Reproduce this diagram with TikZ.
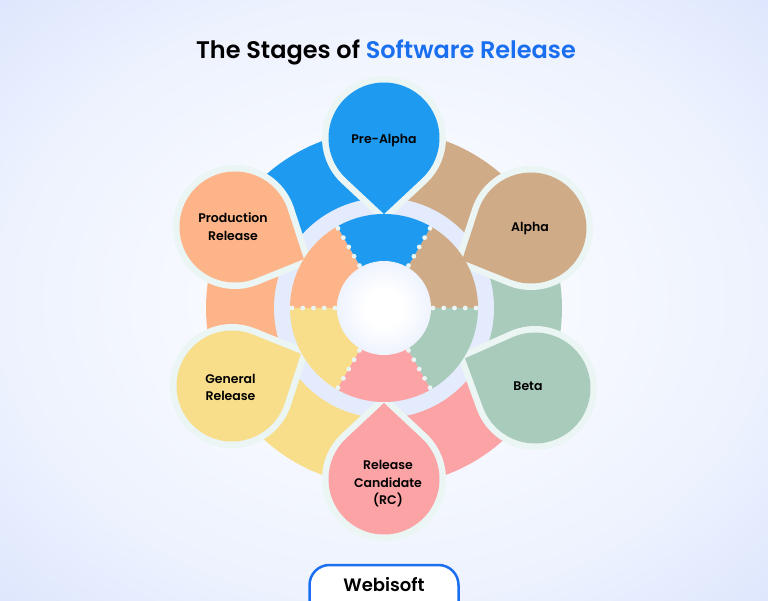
\documentclass[tikz,border=0pt]{standalone}
\usepackage{fontspec}
\setmainfont{Poppins}[BoldFont={* SemiBold}]
\definecolor{bgin}{HTML}{F8FAFF}
\definecolor{bgmid}{HTML}{EDF2FE}
\definecolor{bgout}{HTML}{DEE7FD}
\definecolor{holeout}{HTML}{EEF3FE}
\pgfdeclareradialshading{bgshade}{\pgfpoint{0bp}{0bp}}{color(0bp)=(bgin); color(10bp)=(bgin); color(25bp)=(bgmid); color(35bp)=(bgout); color(50bp)=(bgout)}
\pgfdeclareradialshading{holeshade}{\pgfpoint{0bp}{0bp}}{color(0bp)=(white); color(10bp)=(white); color(25bp)=(holeout); color(50bp)=(holeout)}
\definecolor{pale}{HTML}{E4EBFD}
\definecolor{halo}{HTML}{EAF5F4}
\definecolor{cblue}{HTML}{1E9BF0}
\definecolor{ctan}{HTML}{CFAB88}
\definecolor{cgreen}{HTML}{A9CBBB}
\definecolor{cpink}{HTML}{FBA3A5}
\definecolor{cyellow}{HTML}{F8DD8A}
\definecolor{corange}{HTML}{FDB488}
\definecolor{brand}{HTML}{1A6FF0}
\usetikzlibrary{calc}
\tikzset{
  label text/.style={font=\bfseries\fontsize{12.5}{17.5}\selectfont,align=center,text=black,inner sep=0pt},
  halo line/.style={draw=halo,line width=13pt,miter limit=10},
}
\newcommand{\bandsector}[4]{\fill[#4] (384,292) -- ($(384,292)+(#1:#3)$) arc[start angle=#1,end angle=#2,radius=#3] -- cycle;}
\newcommand{\dropshape}{(0,-76) -- (-46:55.5) arc[start angle=-46,end angle=226,radius=55.5] -- cycle}
\newcommand{\dropback}[3]{\begin{scope}[shift={(#1,#2)},rotate=#3]\path[halo line] \dropshape;\end{scope}}
\newcommand{\dropfill}[4]{\begin{scope}[shift={(#1,#2)},rotate=#3]\fill[#4] \dropshape;\end{scope}}
\newcommand{\dotline}[1]{\foreach \r in {49,59.75,70.5,81.25,92}{\fill[halo] ($(384,292)+(#1:\r)$) circle[radius=2.4];}}
\begin{document}
\begin{tikzpicture}[x=1pt,y=1pt]
\useasboundingbox (0,0) rectangle (768,600);
\clip (0,0) rectangle (768,600);
\shade[shading=bgshade] (0,0) rectangle (768,600);
% outer bands
\bandsector{30}{90}{178}{ctan}
\bandsector{90}{150}{178}{cblue}
\bandsector{150}{210}{178}{corange}
\bandsector{210}{270}{178}{cyellow}
\bandsector{270}{330}{178}{cpink}
\bandsector{-30}{30}{178}{cgreen}
\fill[pale] (384,292) circle[radius=110];
% drops
\dropback{384}{462}{0}
\dropback{531}{372}{-65}
\dropback{535}{212}{-113}
\dropback{384}{121}{180}
\dropback{232}{214}{115}
\dropback{235}{373}{65}
\dropfill{384}{462}{0}{cblue}
\dropfill{531}{372}{-65}{ctan}
\dropfill{535}{212}{-113}{cgreen}
\dropfill{384}{121}{180}{cpink}
\dropfill{232}{214}{115}{cyellow}
\dropfill{235}{373}{65}{corange}
% inner ring
\bandsector{0}{60}{94}{ctan}
\bandsector{60}{120}{94}{cblue}
\bandsector{120}{180}{94}{corange}
\bandsector{180}{240}{94}{cyellow}
\bandsector{240}{300}{94}{cpink}
\bandsector{300}{360}{94}{cgreen}
\shade[shading=holeshade] (384,292) circle[radius=47];
\dotline{0}\dotline{60}\dotline{120}\dotline{180}\dotline{240}\dotline{300}
% labels
\node[label text] (prealpha) at (384,459) {Pre-Alpha};
\node[label text] (alpha) at (530,371) {Alpha};
\node[label text] (beta) at (528,214) {Beta};
\node[label text] (rc) at (388,116) {Release\\Candidate\\(RC)};
\node[label text] (general) at (230.5,212.5) {General\\Release};
\node[label text] (production) at (233,373.5) {Production\\Release};
% title
\node[inner sep=0pt,font=\bfseries\fontsize{24}{30}\selectfont] (title) at (386,548) {\textcolor{black}{The Stages of} \textcolor{brand}{Software Release}};
% badge
\draw[draw=brand,fill=white,line width=2.5pt,rounded corners=20pt] (309.5,-30) rectangle (458.5,35);
\node[inner sep=0pt,font=\bfseries\fontsize{18}{24}\selectfont] (badge) at (384,15) {Webisoft};
\end{tikzpicture}
\end{document}
